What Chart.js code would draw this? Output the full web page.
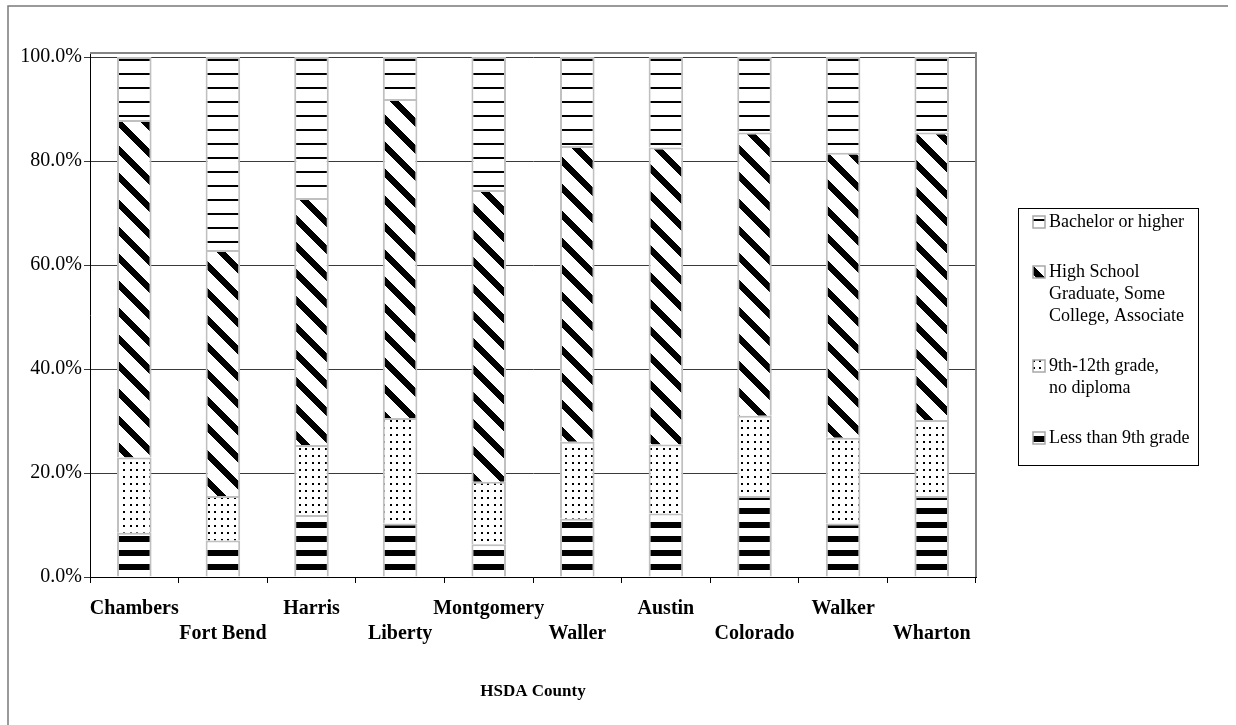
<!DOCTYPE html>
<html>
<head>
<meta charset="utf-8">
<title>Educational Attainment by HSDA County</title>
<script src="https://cdn.jsdelivr.net/npm/chart.js@4/dist/chart.umd.min.js"></script>
<style>
  html, body { margin: 0; padding: 0; background: #fff; }
  #wrap { width: 1236px; height: 725px; position: relative; }
</style>
</head>
<body>
<div id="wrap"><canvas id="chart" width="1236" height="725"></canvas></div>
<script>
// Counties along the x axis
const categories = ['Chambers', 'Fort Bend', 'Harris', 'Liberty', 'Montgomery',
                    'Waller', 'Austin', 'Colorado', 'Walker', 'Wharton'];

// Share of adults (%) by highest level of schooling
const lessThan9th   = [8.5, 7.0, 11.9, 10.3, 6.3, 11.2, 12.2, 15.6, 10.3, 15.6];
const grade9to12    = [14.5, 8.6, 13.5, 20.3, 12.0, 14.8, 13.3, 15.4, 16.5, 14.6];
const hsSomeCollege = [64.9, 47.3, 47.5, 61.3, 56.1, 56.9, 57.1, 54.5, 54.8, 55.3];
const bachelorPlus  = [12.1, 37.1, 27.1, 8.1, 25.6, 17.1, 17.4, 14.5, 18.4, 14.5];

// Series names, split into the lines shown in the legend
const nameLess     = ['Less than 9th grade'];
const name9to12    = ['9th-12th grade,', 'no diploma'];
const nameHS       = ['High School', 'Graduate, Some', 'College, Associate'];
const nameBachelor = ['Bachelor or higher'];

const yTicks = [0, 20, 40, 60, 80, 100];
const axisTitle = 'HSDA County';

const SERIF = "'Liberation Serif', 'Times New Roman', serif";
const canvas = document.getElementById('chart');
const ctx = canvas.getContext('2d');

// Black-and-white fill patterns built pixel by pixel
function makePattern(w, h, ink) {
  const c = document.createElement('canvas');
  c.width = w; c.height = h;
  const g = c.getContext('2d');
  const img = g.createImageData(w, h);
  for (let y = 0; y < h; y++) {
    for (let x = 0; x < w; x++) {
      const i = (y * w + x) * 4;
      const v = ink(x, y) ? 0 : 255;
      img.data[i] = v; img.data[i + 1] = v; img.data[i + 2] = v; img.data[i + 3] = 255;
    }
  }
  g.putImageData(img, 0, 0);
  return ctx.createPattern(c, 'repeat');
}

const patThinLines  = makePattern(8, 14, (x, y) => y === 3 || y === 4);
const patThickLines = makePattern(8, 14, (x, y) => y >= 4 && y <= 9);
const patDots       = makePattern(13, 7, (x, y) => (x < 2 || (x >= 6 && x < 8)) && y < 2);
const patDiagonal   = makePattern(27, 27, (x, y) => (((y - x) % 27) + 27) % 27 < 9);

const BAR_EDGE = '#c0c0c0';

function series(lines, values, fill) {
  return {
    label: lines.join(' '),
    legendLines: lines,
    data: values,
    backgroundColor: fill,
    borderColor: BAR_EDGE,
    borderWidth: 2,
    barPercentage: 0.39,
    categoryPercentage: 1.0
  };
}

// Frame around the whole chart and the grey top/right edges of the plot area
const framePlugin = {
  id: 'frame',
  beforeDraw(chart) {
    const g = chart.ctx;
    g.save();
    g.fillStyle = '#fff';
    g.fillRect(0, 0, chart.width, chart.height);
    g.strokeStyle = '#7a7a7a';
    g.lineWidth = 1.5;
    g.beginPath();
    g.moveTo(8, chart.height);
    g.lineTo(8, 6);
    g.lineTo(1228, 6);
    g.stroke();
    g.restore();
  },
  afterDatasetsDraw(chart) {
    const a = chart.chartArea;
    const g = chart.ctx;
    g.save();
    g.strokeStyle = '#858585';
    g.lineWidth = 2;
    g.beginPath();
    g.moveTo(a.left, a.top);
    g.lineTo(a.right, a.top);
    g.lineTo(a.right, a.bottom);
    g.stroke();
    g.restore();
  }
};

// Boxed legend on the right, top series first
const legendPlugin = {
  id: 'boxLegend',
  afterDraw(chart) {
    const g = chart.ctx;
    const boxX = 1018, boxY = 208, boxW = 180, boxH = 257;
    const swX = 1033, sw = 12, textX = 1049;
    const lineH = 22, gap = 28;
    g.save();
    g.strokeStyle = '#000';
    g.lineWidth = 1;
    g.strokeRect(boxX + 0.5, boxY + 0.5, boxW, boxH);
    g.font = '18px ' + SERIF;
    g.fillStyle = '#000';
    g.textBaseline = 'middle';
    g.textAlign = 'left';
    let y = 222;
    const items = chart.data.datasets.slice().reverse();
    items.forEach(ds => {
      const top = Math.round(y - sw / 2);
      g.save();
      g.translate(swX, top);
      g.fillStyle = ds.backgroundColor;
      g.fillRect(0, 0, sw, sw);
      g.restore();
      g.strokeStyle = '#a8a8a8';
      g.lineWidth = 1.5;
      g.strokeRect(swX, top, sw, sw);
      ds.legendLines.forEach((t, i) => {
        g.fillText(t, textX, y + i * lineH);
      });
      y += (ds.legendLines.length - 1) * lineH + lineH + gap;
    });
    g.restore();
  }
};

new Chart(ctx, {
  type: 'bar',
  data: {
    labels: categories,
    datasets: [
      series(nameLess, lessThan9th, patThickLines),
      series(name9to12, grade9to12, patDots),
      series(nameHS, hsSomeCollege, patDiagonal),
      series(nameBachelor, bachelorPlus, patThinLines)
    ]
  },
  options: {
    responsive: false,
    devicePixelRatio: 1,
    animation: false,
    events: [],
    layout: { padding: { left: 0, top: 53, right: 260, bottom: 0 } },
    plugins: {
      legend: { display: false },
      tooltip: { enabled: false },
      title: { display: false }
    },
    scales: {
      x: {
        stacked: true,
        grid: {
          offset: true,
          drawOnChartArea: false,
          drawTicks: true,
          tickLength: 6,
          color: '#000',
          lineWidth: 1
        },
        border: { display: true, color: '#000', width: 1 },
        ticks: {
          autoSkip: false,
          maxRotation: 0,
          padding: 13,
          color: '#000',
          font: { family: SERIF, size: 20, weight: 'bold', lineHeight: 1.25 },
          callback: (v, i) => i % 2 === 0 ? [categories[i], ''] : ['', categories[i]]
        },
        title: {
          display: true,
          text: axisTitle,
          color: '#000',
          font: { family: SERIF, size: 17, weight: 'bold', lineHeight: 1.2 },
          padding: { top: 0, bottom: 23 }
        },
        afterFit(scale) { scale.height = 148; }
      },
      y: {
        stacked: true,
        min: 0,
        max: 100.77,
        bounds: 'data',
        grid: {
          drawTicks: true,
          tickLength: 6,
          color: '#3a3a3a',
          lineWidth: 1
        },
        border: { display: true, color: '#000', width: 1 },
        afterBuildTicks(scale) { scale.ticks = yTicks.map(v => ({ value: v })); },
        ticks: {
          padding: 2,
          color: '#000',
          font: { family: SERIF, size: 20 },
          callback: v => v.toFixed(1) + '%'
        },
        afterFit(scale) { scale.width = 90; }
      }
    }
  },
  plugins: [framePlugin, legendPlugin]
});
</script>
</body>
</html>
